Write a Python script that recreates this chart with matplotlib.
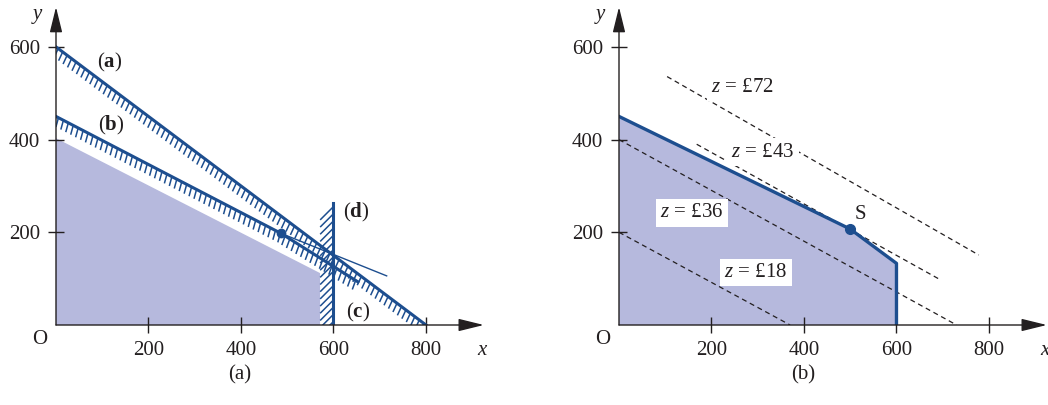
import matplotlib
matplotlib.use('Agg')
import matplotlib.pyplot as plt
import matplotlib.patheffects as pe

plt.rcParams['font.family'] = 'Liberation Serif'
plt.rcParams['mathtext.fontset'] = 'custom'
plt.rcParams['mathtext.it'] = 'Liberation Serif:italic'
plt.rcParams['mathtext.rm'] = 'Liberation Serif'
plt.rcParams['mathtext.bf'] = 'Liberation Serif:bold'

BLUE = '#1d4e8f'
FILL = '#b6b9dd'
INK = '#231f20'

x_ticks = [200, 400, 600, 800]
y_ticks = [200, 400, 600]

# panel (a): constraint lines
line_a_x = [0, 800]
line_a_y = [600, 0]
line_bc_x = [0, 486, 653]
line_bc_y = [450, 198, 93]
line_b_tail_x = [486, 715]
line_b_tail_y = [198, 106]
line_d_x = [600, 600]
line_d_y = [0, 263]
region_a_x = [0, 0, 571, 571]
region_a_y = [0, 403, 112, 0]
point_a = (486, 198)
labels_a = [r'($\mathbf{a}$)', r'($\mathbf{b}$)', r'($\mathbf{c}$)', r'($\mathbf{d}$)']
labels_a_x = [117, 120, 654, 649]
labels_a_y = [567, 431, 28, 242]

# panel (b): feasible region and iso-profit lines
region_b_x = [0, 0, 500, 600, 600]
region_b_y = [0, 450, 207, 133, 0]
point_s = (500, 207)
iso_z = ['18', '36', '43', '72']
iso_x0 = [0, 0, 168, 104]
iso_y0 = [200, 400, 390, 536]
iso_x1 = [370, 730, 696, 778]
iso_y1 = [0, 0, 97, 151]
iso_label_x = [296, 158, 311, 266]
iso_label_y = [113, 242, 373, 513]

fig = plt.figure(figsize=(10.48, 4.05), dpi=100)
ax_a = fig.add_axes([56 / 1048, 80 / 405, 432.4 / 1048, 319.8 / 405])
ax_b = fig.add_axes([619 / 1048, 80 / 405, 432.4 / 1048, 319.8 / 405])


def setup(ax):
    ax.set_xlim(0, 935)
    ax.set_ylim(0, 690)
    for s in ax.spines.values():
        s.set_visible(False)
    arrow = dict(arrowstyle='-|>,head_length=1.3,head_width=0.32', color=INK,
                 lw=1.0, mutation_scale=12, shrinkA=0, shrinkB=0)
    ax.annotate('', xy=(925, 0), xytext=(0, 0), arrowprops=arrow,
                annotation_clip=False, zorder=5)
    ax.annotate('', xy=(0, 686), xytext=(0, 0), arrowprops=arrow,
                annotation_clip=False, zorder=5)
    ax.set_xticks(x_ticks)
    ax.set_yticks(y_ticks)
    ax.tick_params(direction='inout', length=11, width=1.0, color=INK,
                   labelsize=15, labelcolor=INK)
    ax.tick_params(axis='x', pad=6)
    ax.tick_params(axis='y', pad=6)
    ax.text(921, -54, 'x', style='italic', fontsize=15, color=INK,
            ha='center', va='center', clip_on=False)
    ax.text(-41, 669, 'y', style='italic', fontsize=15, color=INK,
            ha='center', va='center', clip_on=False)
    ax.text(-35, -32, 'O', fontsize=15, color=INK, ha='center', va='center',
            clip_on=False)


setup(ax_a)
setup(ax_b)

# ---- panel (a)
ax_a.fill(region_a_x, region_a_y, color=FILL, lw=0, zorder=1)
ticks_below = [pe.TickedStroke(angle=-78, spacing=4, length=1.6, linewidth=1.1)]
ax_a.plot(line_a_x, line_a_y, color=BLUE, lw=2.2, zorder=3)
ax_a.plot(line_a_x, line_a_y, color=BLUE, lw=1.1, zorder=3,
          path_effects=ticks_below)
ax_a.plot(line_bc_x, line_bc_y, color=BLUE, lw=2.2, zorder=3)
ax_a.plot(line_bc_x, line_bc_y, color=BLUE, lw=1.1, zorder=3,
          path_effects=ticks_below)
ax_a.plot(line_b_tail_x, line_b_tail_y, color=BLUE, lw=1.0, zorder=3)
ax_a.plot(line_d_x, line_d_y, color=BLUE, lw=2.2, zorder=3)
ax_a.plot(line_d_x, line_d_y, color=BLUE, lw=1.1, zorder=3,
          path_effects=[pe.TickedStroke(angle=135, spacing=5, length=2.6,
                                        linewidth=1.1)])
ax_a.plot(*point_a, 'o', color=BLUE, ms=6, zorder=4)
for t, x, y in zip(labels_a, labels_a_x, labels_a_y):
    ax_a.text(x, y, t, fontsize=15, color=INK, ha='center', va='center')

# ---- panel (b)
ax_b.fill(region_b_x, region_b_y, color=FILL, lw=0, zorder=1)
ax_b.plot(region_b_x[1:], region_b_y[1:], color=BLUE, lw=2.4, zorder=3)
ax_b.plot(*point_s, 'o', color=BLUE, ms=7, zorder=4)
ax_b.text(point_s[0] + 22, point_s[1] + 32, 'S', fontsize=15, color=INK,
          ha='center', va='center')
for z, x0, y0, x1, y1, lx, ly in zip(iso_z, iso_x0, iso_y0, iso_x1, iso_y1,
                                     iso_label_x, iso_label_y):
    ax_b.plot([x0, x1], [y0, y1], color=INK, lw=0.9, ls=(0, (4, 3)), zorder=2)
    ax_b.text(lx, ly, r'$z$ = £' + z, fontsize=15, color=INK,
              ha='center', va='center', zorder=4,
              bbox=dict(facecolor='white', edgecolor='none', pad=3))

fig.text(240 / 1048, 1 - 375 / 405, '(a)', fontsize=15, color=INK,
         ha='center', va='center')
fig.text(803 / 1048, 1 - 375 / 405, '(b)', fontsize=15, color=INK,
         ha='center', va='center')

fig.savefig('out.png', dpi=100)
